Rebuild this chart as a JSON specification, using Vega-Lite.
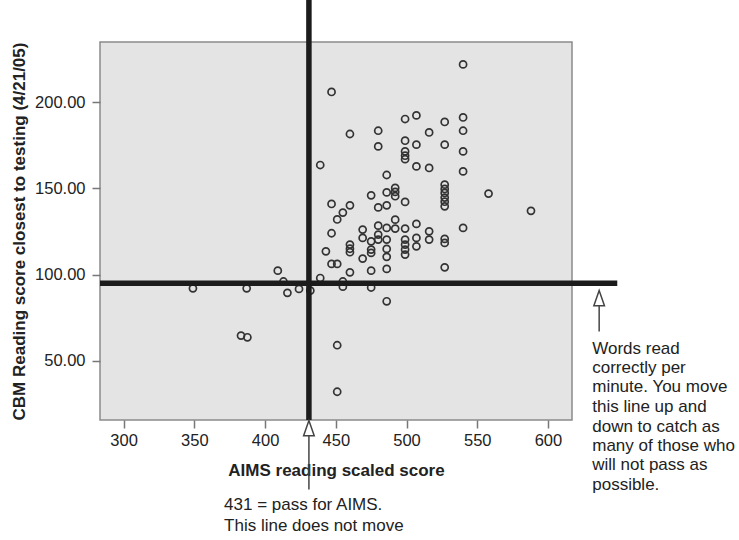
{
  "$schema": "https://vega.github.io/schema/vega-lite/v6.json",
  "width": 472,
  "height": 378,
  "autosize": {"type": "none"},
  "padding": {"left": 100, "top": 42, "right": 167, "bottom": 120},
  "background": "white",
  "config": {
    "font": "Liberation Sans",
    "view": {"fill": "#e4e4e4", "stroke": "#8a8a8a", "strokeWidth": 1.5}
  },
  "datasets": {
    "scores": [
      {"aims": 349, "cbm": 92}, {"aims": 383, "cbm": 64.6}, {"aims": 387.5, "cbm": 63.6},
      {"aims": 387, "cbm": 92}, {"aims": 409, "cbm": 102.3}, {"aims": 413, "cbm": 96},
      {"aims": 415.8, "cbm": 89.4}, {"aims": 424, "cbm": 91.7}, {"aims": 432, "cbm": 90.7},
      {"aims": 439, "cbm": 98}, {"aims": 439, "cbm": 163.6}, {"aims": 443, "cbm": 113.5},
      {"aims": 447, "cbm": 206}, {"aims": 447, "cbm": 141}, {"aims": 447, "cbm": 124},
      {"aims": 447, "cbm": 106.2}, {"aims": 451, "cbm": 106.2}, {"aims": 451, "cbm": 132},
      {"aims": 451, "cbm": 59}, {"aims": 451, "cbm": 32}, {"aims": 455, "cbm": 136},
      {"aims": 455, "cbm": 96}, {"aims": 455, "cbm": 93}, {"aims": 460, "cbm": 181.6},
      {"aims": 460, "cbm": 140.2}, {"aims": 460, "cbm": 117.4}, {"aims": 460, "cbm": 115},
      {"aims": 460, "cbm": 113}, {"aims": 460, "cbm": 101.3}, {"aims": 469, "cbm": 126.1},
      {"aims": 469, "cbm": 121.3}, {"aims": 469, "cbm": 109.3}, {"aims": 475, "cbm": 146},
      {"aims": 475, "cbm": 119.3}, {"aims": 475, "cbm": 114.5}, {"aims": 475, "cbm": 112.6},
      {"aims": 475, "cbm": 102.3}, {"aims": 475, "cbm": 92.5}, {"aims": 480, "cbm": 183.5},
      {"aims": 480, "cbm": 174.4}, {"aims": 480, "cbm": 139}, {"aims": 480, "cbm": 128.4},
      {"aims": 480, "cbm": 123.2}, {"aims": 480, "cbm": 120.3}, {"aims": 486, "cbm": 157.8},
      {"aims": 486, "cbm": 147.7}, {"aims": 486, "cbm": 140.2}, {"aims": 486, "cbm": 127.1},
      {"aims": 486, "cbm": 120.3}, {"aims": 486, "cbm": 114.9}, {"aims": 486, "cbm": 110.3},
      {"aims": 486, "cbm": 103.3}, {"aims": 486, "cbm": 84.5}, {"aims": 492, "cbm": 150.3},
      {"aims": 492, "cbm": 148}, {"aims": 492, "cbm": 145.5}, {"aims": 492, "cbm": 131.9},
      {"aims": 492, "cbm": 126.7}, {"aims": 499, "cbm": 190.3}, {"aims": 499, "cbm": 177.7},
      {"aims": 499, "cbm": 171.5}, {"aims": 499, "cbm": 169}, {"aims": 499, "cbm": 167},
      {"aims": 499, "cbm": 142.2}, {"aims": 499, "cbm": 126.7}, {"aims": 499, "cbm": 120.3},
      {"aims": 499, "cbm": 117.4}, {"aims": 499, "cbm": 114.5}, {"aims": 499, "cbm": 111.6},
      {"aims": 507, "cbm": 192.4}, {"aims": 507, "cbm": 175.4}, {"aims": 507, "cbm": 162.8},
      {"aims": 507, "cbm": 129.4}, {"aims": 507, "cbm": 121.3}, {"aims": 507, "cbm": 116.4},
      {"aims": 516, "cbm": 182.5}, {"aims": 516, "cbm": 161.9}, {"aims": 516, "cbm": 125.1},
      {"aims": 516, "cbm": 120.3}, {"aims": 527, "cbm": 188.6}, {"aims": 527, "cbm": 175.4},
      {"aims": 527, "cbm": 152.2}, {"aims": 527, "cbm": 149.7}, {"aims": 527, "cbm": 147.4},
      {"aims": 527, "cbm": 144.7}, {"aims": 527, "cbm": 142.3}, {"aims": 527, "cbm": 139.6},
      {"aims": 527, "cbm": 120.7}, {"aims": 527, "cbm": 118.4}, {"aims": 527, "cbm": 104.2},
      {"aims": 540, "cbm": 222}, {"aims": 540, "cbm": 191.2}, {"aims": 540, "cbm": 183.5},
      {"aims": 540, "cbm": 171.5}, {"aims": 540, "cbm": 159.9}, {"aims": 540, "cbm": 127.1},
      {"aims": 558, "cbm": 147}, {"aims": 588, "cbm": 137}
    ],
    "vline": [{"aims": 431, "cbm": 15.6, "cbm2": 262}],
    "hline": [{"aims": 283.3, "aims2": 649, "cbm": 95}],
    "stems": [
      {"aims": 431, "cbm": 6.6, "cbm2": -24.7},
      {"aims": 636.2, "cbm": 82.6, "cbm2": 66.9}
    ],
    "heads": [
      {"aims": 431, "cbm": 10.9},
      {"aims": 636.2, "cbm": 86.3}
    ],
    "notes": [
      {"aims": 371, "cbm": -33.6, "t": "431 = pass for AIMS."},
      {"aims": 371, "cbm": -46.2, "t": "This line does not move"},
      {"aims": 631.3, "cbm": 57.1, "t": "Words read"},
      {"aims": 631.3, "cbm": 45.8, "t": "correctly per"},
      {"aims": 631.3, "cbm": 34.5, "t": "minute. You move"},
      {"aims": 631.3, "cbm": 23.1, "t": "this line up and"},
      {"aims": 631.3, "cbm": 11.8, "t": "down to catch as"},
      {"aims": 631.3, "cbm": 0.5, "t": "many of those who"},
      {"aims": 631.3, "cbm": -10.8, "t": "will not pass as"},
      {"aims": 631.3, "cbm": -22.1, "t": "possible."}
    ]
  },
  "layer": [
    {
      "data": {"name": "scores"},
      "mark": {"type": "point", "shape": "circle", "filled": false, "stroke": "#333333", "strokeWidth": 1.7, "size": 50, "opacity": 1},
      "encoding": {
        "x": {
          "field": "aims", "type": "quantitative",
          "scale": {"domain": [283.3, 617], "nice": false, "zero": false},
          "axis": {
            "title": "AIMS reading scaled score",
            "values": [300, 350, 400, 450, 500, 550, 600],
            "grid": false, "domain": false,
            "tickColor": "#777", "tickWidth": 1.5, "tickSize": 8,
            "labelFont": "Liberation Sans", "labelFontSize": 16.5, "labelColor": "#222", "labelPadding": 4,
            "titleFont": "Liberation Sans", "titleFontSize": 17, "titleFontWeight": "bold", "titleColor": "#222",
            "titleY": 50, "titleBaseline": "middle"
          }
        },
        "y": {
          "field": "cbm", "type": "quantitative",
          "scale": {"domain": [15.6, 235], "nice": false, "zero": false},
          "axis": {
            "title": "CBM Reading score closest to testing (4/21/05)",
            "values": [50, 100, 150, 200], "format": ".2f",
            "grid": false, "domain": false,
            "tickColor": "#777", "tickWidth": 1.5, "tickSize": 8,
            "labelFont": "Liberation Sans", "labelFontSize": 16.5, "labelColor": "#222", "labelPadding": 7,
            "titleFont": "Liberation Sans", "titleFontSize": 17, "titleFontWeight": "bold", "titleColor": "#222",
            "titleX": -81, "titleBaseline": "middle"
          }
        }
      }
    },
    {
      "data": {"name": "vline"},
      "mark": {"type": "rule", "color": "#1c1c1c", "strokeWidth": 5.5},
      "encoding": {
        "x": {"field": "aims", "type": "quantitative"},
        "y": {"field": "cbm", "type": "quantitative"},
        "y2": {"field": "cbm2"}
      }
    },
    {
      "data": {"name": "hline"},
      "mark": {"type": "rule", "color": "#1c1c1c", "strokeWidth": 5.5},
      "encoding": {
        "x": {"field": "aims", "type": "quantitative"},
        "x2": {"field": "aims2"},
        "y": {"field": "cbm", "type": "quantitative"}
      }
    },
    {
      "data": {"name": "stems"},
      "mark": {"type": "rule", "color": "#444", "strokeWidth": 1.5},
      "encoding": {
        "x": {"field": "aims", "type": "quantitative"},
        "y": {"field": "cbm", "type": "quantitative"},
        "y2": {"field": "cbm2"}
      }
    },
    {
      "data": {"name": "heads"},
      "mark": {"type": "point", "shape": "M-0.7,1L0,-1L0.7,1Z", "filled": true, "fill": "white", "stroke": "#444", "strokeWidth": 1.5, "size": 230, "opacity": 1},
      "encoding": {
        "x": {"field": "aims", "type": "quantitative"},
        "y": {"field": "cbm", "type": "quantitative"}
      }
    },
    {
      "data": {"name": "notes"},
      "mark": {"type": "text", "align": "left", "baseline": "middle", "font": "Liberation Sans", "fontSize": 17, "color": "#222"},
      "encoding": {
        "x": {"field": "aims", "type": "quantitative"},
        "y": {"field": "cbm", "type": "quantitative"},
        "text": {"field": "t", "type": "nominal"}
      }
    }
  ]
}
